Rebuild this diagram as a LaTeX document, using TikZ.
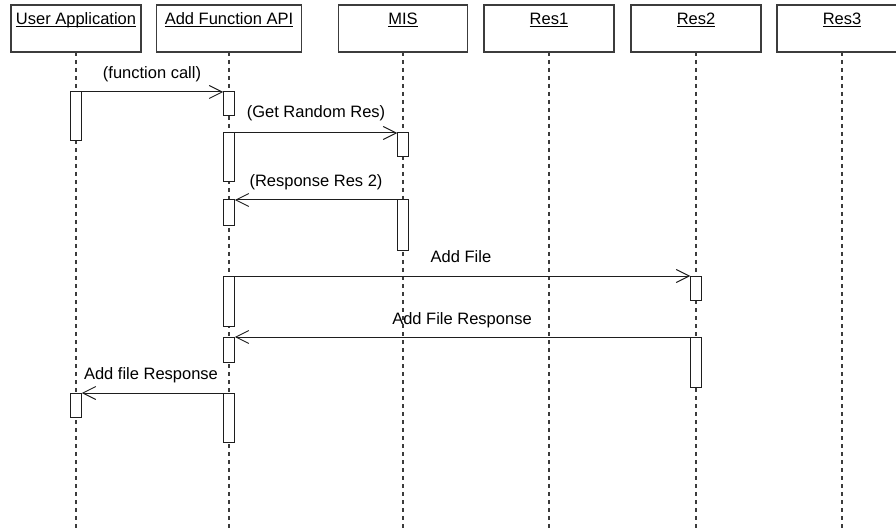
\documentclass[tikz,border=0pt]{standalone}
\usepackage{fontspec}
\setmainfont{Liberation Sans}
\usetikzlibrary{arrows.meta,positioning}
\definecolor{seqline}{RGB}{30,30,30}
\definecolor{seqframe}{RGB}{60,60,60}
\newsavebox{\unbox}
\newcommand{\uname}[1]{\sbox\unbox{#1}\rlap{\rule[-2pt]{\wd\unbox}{0.9pt}}\usebox\unbox}
\tikzset{
  head/.style={draw=seqframe, line width=1.2pt, minimum height=47pt, inner sep=0pt, outer sep=0pt},
  htxt/.style={font=\fontsize{16.5}{19}\selectfont, inner sep=0pt, anchor=base},
  life/.style={seqframe, line width=1.2pt, dash pattern=on 4pt off 4pt},
  actbar/.style={draw=seqline, fill=white, line width=1pt, minimum width=11.5pt,
                 inner sep=0pt, outer sep=0pt, anchor=north},
  msg/.style={-{Straight Barb[length=13pt, width=13pt, line width=1pt]}, seqline, line width=1pt},
  mlab/.style={font=\fontsize{16.5}{19}\selectfont, inner sep=0pt, anchor=base},
}

\begin{document}
\begin{tikzpicture}[x=1pt, y=-1pt]
  \useasboundingbox (0,0) rectangle (896,529);
  % object boxes
  \node[head, minimum width=130pt] (usr)  at (76,28.5)  {};
  \node[head, minimum width=145pt] (api)  at (229,28.5) {};
  \node[head, minimum width=129pt] (mis)  at (403,28.5) {};
  \node[head, minimum width=130pt] (res1) at (549,28.5) {};
  \node[head, minimum width=130pt] (res2) at (696,28.5) {};
  \node[head, minimum width=130pt] (res3) at (842,28.5) {};
  \node[htxt] (usrt)  at (76,25)  {\uname{User Application}};
  \node[htxt] (apit)  at (229,25) {\uname{Add Function API}};
  \node[htxt] (mist)  at (403,25) {\uname{MIS}};
  \node[htxt] (res1t) at (549,25) {\uname{Res1}};
  \node[htxt] (res2t) at (696,25) {\uname{Res2}};
  \node[htxt] (res3t) at (842,25) {\uname{Res3}};
  % lifelines
  \foreach \n in {usr,api,mis,res1,res2,res3} {
    \coordinate (\n-end) at (\n.south |- 0,529);
    \draw[life] (\n.south) -- (\n-end);
  }
  % activation bars
  \node[actbar, minimum height=49pt] (usr1) at (76,92)  {};
  \node[actbar, minimum height=24pt] (usr2) at (76,393) {};
  \node[actbar, minimum height=24pt] (api1) at (229,92)  {};
  \node[actbar, minimum height=49pt] (api2) at (229,133) {};
  \node[actbar, minimum height=26pt] (api3) at (229,200) {};
  \node[actbar, minimum height=50pt] (api4) at (229,276) {};
  \node[actbar, minimum height=25pt] (api5) at (229,337) {};
  \node[actbar, minimum height=49pt] (api6) at (229,393) {};
  \node[actbar, minimum height=24pt] (mis1) at (403,133) {};
  \node[actbar, minimum height=51pt] (mis2) at (403,200) {};
  \node[actbar, minimum height=24pt] (res21) at (696,276) {};
  \node[actbar, minimum height=50pt] (res22) at (696,337) {};
  % messages
  \draw[msg] (usr1.north east) -- (api1.north west);
  \draw[msg] (api2.north east) -- (mis1.north west);
  \draw[msg] (mis2.north west) -- (api3.north east);
  \draw[msg] (api4.north east) -- (res21.north west);
  \draw[msg] (res22.north west) -- (api5.north east);
  \draw[msg] (api6.north west) -- (usr2.north east);
  \node[mlab] (m1) at (152,79)  {(function call)};
  \node[mlab] (m2) at (316,118) {(Get Random Res)};
  \node[mlab] (m3) at (316,187) {(Response Res 2)};
  \node[mlab] (m4) at (461,262) {Add File};
  \node[mlab] (m5) at (462,324) {Add File Response};
  \node[mlab] (m6) at (151,379) {Add file Response};
\end{tikzpicture}
\end{document}
